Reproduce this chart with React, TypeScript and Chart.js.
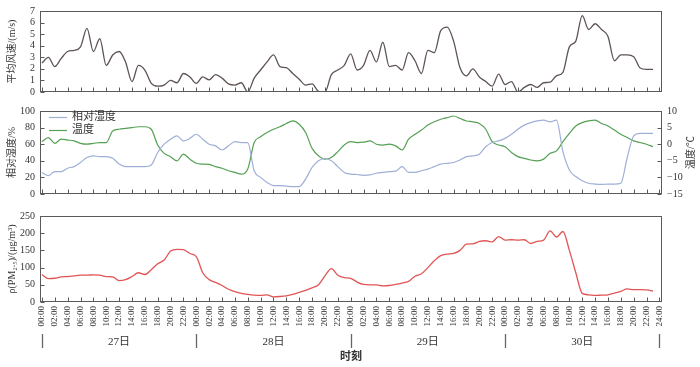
import React, { useEffect, useRef } from 'react';
import { Chart, registerables } from 'chart.js';
Chart.register(...registerables);

// ---------- data ----------
const hourTickLabels = ['00:00', '02:00', '04:00', '06:00', '08:00', '10:00', '12:00', '14:00', '16:00', '18:00', '20:00', '22:00'];
const endTickLabel = '24:00';
const dayLabels = ['27日', '28日', '29日', '30日'];

// hourly, 27th 00:00 .. 30th 23:00
const windSpeed = [
  2.5, 3.0, 2.2, 2.9, 3.5, 3.6, 3.9, 5.5, 3.5, 4.6,
  2.3, 3.2, 3.5, 2.6, 0.9, 2.3, 1.9, 0.75, 0.5, 0.6,
  1.0, 0.8, 1.6, 1.3, 0.75, 1.3, 1.05, 1.5, 1.2, 0.7,
  0.6, 0.8, 0.0, 1.2, 1.9, 2.6, 3.2, 2.2, 2.1, 1.6,
  1.1, 0.6, 0.7, 0.05, 0.0, 1.5, 1.9, 2.3, 3.3, 1.9,
  2.3, 3.6, 2.6, 4.3, 2.2, 2.3, 1.9, 3.4, 2.7, 1.6,
  3.6, 3.4, 5.3, 5.6, 4.4, 2.1, 1.4, 2.0, 1.3, 0.9,
  0.5, 1.55, 0.65, 0.9, 0.0, 0.4, 0.65, 0.4, 0.8, 0.85,
  1.4, 1.7, 3.9, 4.4, 6.6, 5.4, 5.9, 5.4, 4.8, 2.7,
  3.2, 3.2, 3.05, 2.07, 1.95, 1.95,
];
const humidity = [
  26, 22, 27, 27, 31, 33, 38, 44, 46, 45,
  45, 43, 36, 33, 33, 33, 33, 35, 50, 60,
  66, 70, 64, 67, 72, 66, 60, 58, 53, 58,
  63, 62, 62, 28, 20, 14, 10, 10, 9.5, 9,
  9, 18, 32, 40, 43, 40, 33, 26, 24, 23.5,
  22.5, 23, 25, 26, 27, 27.5, 33, 26, 26, 28,
  30, 33, 36, 37, 38, 41, 45, 46, 48, 57,
  62, 64, 67, 72, 78, 83, 86, 88, 89, 87,
  89, 51, 29, 21, 16, 13, 12, 11.5, 12, 12,
  13, 44, 70, 73, 73, 73,
];
const temperature = [
  0.75, 2.0, 0.25, 1.5, 1.25, 1.0, 0.25, 0.0, 0.25, 0.5,
  0.5, 4.0, 4.5, 4.75, 5.0, 5.25, 5.25, 4.5, -0.25, -2.75,
  -3.75, -5.0, -3.0, -4.5, -5.75, -6.0, -6.1, -6.75, -7.25, -8.0,
  -8.5, -9.0, -7.5, 0.5, 2.25, 3.5, 4.5, 5.25, 6.25, 7.0,
  6.0, 3.5, -1.25, -3.5, -4.5, -4.0, -2.25, -0.25, 0.75, 0.5,
  0.6, 1.0, 0.0, -0.25, 0.0, -0.5, -1.75, 1.5, 3.0, 4.25,
  5.75, 6.75, 7.5, 8.0, 8.5, 7.75, 7.0, 6.75, 6.25, 4.5,
  0.75, -0.25, -0.75, -2.5, -3.75, -4.25, -4.75, -5.0, -4.5, -2.75,
  -2.0, 0.75, 3.25, 5.5, 6.5, 7.0, 7.25, 6.25, 5.5, 4.25,
  3.0, 2.0, 1.0, 0.5, 0.0, -0.75,
];
const pm25 = [
  80, 68, 69, 73, 74, 76, 78, 78, 79, 78,
  74, 73, 62, 65, 74, 85, 80, 94, 111, 122,
  148, 153, 152, 141, 132, 85, 65, 57, 48, 37,
  30, 25, 22, 20, 19, 21, 15, 16, 18, 22,
  28, 34, 41, 50, 76, 97, 78, 71, 69, 58,
  51, 50, 50, 47, 48, 51, 55, 60, 75, 82,
  100, 120, 135, 139, 141, 150, 168, 169, 176, 178,
  175, 190, 180, 181, 180, 181, 170, 176, 180, 207,
  189, 205, 150, 85, 25, 21, 19, 20, 21, 26,
  31, 38, 36, 36, 35, 32,
];

// ---------- style ----------
const SERIF = "'Liberation Serif', 'Times New Roman', serif";
const CJK = "'Liberation Serif', 'Noto Sans CJK SC', serif";
const AXIS = '#5a5a5a';
const TEXT = '#333333';
const X_MIN = -0.3;
const X_MAX = 96.4;

const tickValues: number[] = [];
for (let d = 0; d < dayLabels.length; d++) hourTickLabels.forEach((_, i) => tickValues.push(d * 24 + i * 2));
tickValues.push(dayLabels.length * 24);
const tickLabel = (v: number) => (v === dayLabels.length * 24 ? endTickLabel : hourTickLabels[(v % 24) / 2]);

const points = (arr: number[]) => arr.map((y, i) => ({ x: i, y }));

const framePlugin = {
  id: 'frame',
  afterDraw(chart: any) {
    const { ctx, chartArea: a, scales } = chart;
    ctx.save();
    ctx.strokeStyle = AXIS;
    ctx.lineWidth = 1;
    const L = Math.round(a.left) + 0.5, R = Math.round(a.right) - 0.5;
    const T = Math.round(a.top) + 0.5, B = Math.round(a.bottom) - 0.5;
    ctx.strokeRect(L, T, R - L, B - T);
    ctx.beginPath();
    const xs = scales.x;
    tickValues.forEach((v) => {
      const px = Math.round(xs.getPixelForValue(v)) + 0.5;
      ctx.moveTo(px, B);
      ctx.lineTo(px, B - 4);
    });
    Object.values(scales).forEach((s: any) => {
      if (s.axis !== 'y') return;
      s.ticks.forEach((t: any) => {
        const py = Math.round(s.getPixelForValue(t.value)) + 0.5;
        if (s.position === 'left') { ctx.moveTo(L, py); ctx.lineTo(L + 4, py); }
        else { ctx.moveTo(R, py); ctx.lineTo(R - 4, py); }
      });
    });
    ctx.stroke();
    ctx.restore();
  },
};

const dayPlugin = {
  id: 'days',
  afterDraw(chart: any) {
    const { ctx, chartArea: a, scales } = chart;
    const x = scales.x;
    ctx.save();
    ctx.strokeStyle = '#666';
    ctx.lineWidth = 1.3;
    ctx.beginPath();
    for (let d = 0; d <= dayLabels.length; d++) {
      const px = Math.round(x.getPixelForValue(d * 24)) + 0.5;
      ctx.moveTo(px, a.bottom + 32);
      ctx.lineTo(px, a.bottom + 46);
    }
    ctx.stroke();
    ctx.fillStyle = TEXT;
    ctx.font = `11px ${CJK}`;
    ctx.textAlign = 'center';
    ctx.textBaseline = 'middle';
    dayLabels.forEach((lab, d) => ctx.fillText(lab, x.getPixelForValue(d * 24 + 12), a.bottom + 40));
    ctx.restore();
  },
};

// right-hand axis title (reads bottom-to-top) and legend inside the plot
const middleDecorPlugin = {
  id: 'middleDecor',
  afterDraw(chart: any) {
    const { ctx, chartArea: a } = chart;
    ctx.save();
    ctx.fillStyle = TEXT;
    ctx.font = `10px ${CJK}`;
    ctx.textAlign = 'center';
    ctx.textBaseline = 'middle';
    ctx.save();
    ctx.translate(a.right + 29, (a.top + a.bottom) / 2);
    ctx.rotate(-Math.PI / 2);
    ctx.fillText('温度/℃', 0, 0);
    ctx.restore();

    ctx.font = `11px ${CJK}`;
    ctx.textAlign = 'left';
    chart.data.datasets.forEach((ds: any, i: number) => {
      const y = Math.round(a.top + 6 + i * 13) + 0.5;
      ctx.strokeStyle = ds.borderColor;
      ctx.lineWidth = ds.borderWidth;
      ctx.beginPath();
      ctx.moveTo(a.left + 9, y);
      ctx.lineTo(a.left + 27, y);
      ctx.stroke();
      ctx.fillText(ds.label, a.left + 32, y);
    });
    ctx.restore();
  },
};

const yTitle = (text: string) => ({
  display: true, text, color: TEXT, font: { family: CJK, size: 10 }, padding: { top: 6, bottom: 0 },
});
const yTicks = (stepSize: number) => ({
  stepSize, autoSkip: false, color: TEXT, font: { family: SERIF, size: 10 }, padding: 5,
  callback: (v: any) => String(v).replace('-', '−'),
});
const yAxis = (min: number, max: number, step: number, title: string, position = 'left') => ({
  type: 'linear', position, min, max,
  grid: { display: false, drawTicks: false }, border: { display: false },
  ticks: yTicks(step),
  title: title ? yTitle(title) : { display: false },
  afterFit: (s: any) => { s.width = position === 'left' ? 40 : 38; },
});
const xHidden = () => ({
  type: 'linear', min: X_MIN, max: X_MAX, display: false,
  grid: { display: false }, border: { display: false },
});
const lineDs = (label: string, data: number[], color: string, yAxisID = 'y', width = 1.3) => ({
  label, data: points(data), borderColor: color, backgroundColor: color, borderWidth: width,
  pointRadius: 0, cubicInterpolationMode: 'monotone', yAxisID, fill: false,
});

export default function App() {
  const r1 = useRef<HTMLCanvasElement>(null);
  const r2 = useRef<HTMLCanvasElement>(null);
  const r3 = useRef<HTMLCanvasElement>(null);

  useEffect(() => {
    const common = { responsive: false, animation: false, devicePixelRatio: 1, events: [] as any[] };

    const c1 = new Chart(r1.current!, {
      type: 'line',
      data: { datasets: [lineDs('平均风速', windSpeed, '#5e5453', 'y', 1.3) as any] },
      options: {
        ...common,
        layout: { padding: { top: 7, bottom: 6, left: 0, right: 38 } },
        plugins: { legend: { display: false }, tooltip: { enabled: false } },
        scales: { x: xHidden() as any, y: yAxis(0, 7, 1, '平均风速/(m/s)') as any },
      },
      plugins: [framePlugin],
    });

    const c2 = new Chart(r2.current!, {
      type: 'line',
      data: {
        datasets: [
          lineDs('相对湿度', humidity, '#9fafd6', 'y', 1.2) as any,
          lineDs('温度', temperature, '#55a055', 'y2', 1.2) as any,
        ],
      },
      options: {
        ...common,
        layout: { padding: { top: 10, bottom: 6, left: 0, right: 0 } },
        plugins: { legend: { display: false }, tooltip: { enabled: false } },
        scales: {
          x: xHidden() as any,
          y: yAxis(0, 100, 20, '相对湿度/%') as any,
          y2: yAxis(-15, 10, 5, '', 'right') as any,
        },
      },
      plugins: [framePlugin, middleDecorPlugin],
    });

    const c3 = new Chart(r3.current!, {
      type: 'line',
      data: { datasets: [lineDs('PM2.5', pm25, '#e05555', 'y', 1.3) as any] },
      options: {
        ...common,
        layout: { padding: { top: 7, bottom: 0, left: 0, right: 38 } },
        plugins: { legend: { display: false }, tooltip: { enabled: false } },
        scales: {
          x: {
            type: 'linear', min: X_MIN, max: X_MAX,
            grid: { display: false, drawTicks: false }, border: { display: false },
            afterBuildTicks: (s: any) => { s.ticks = tickValues.map((v) => ({ value: v })); },
            afterFit: (s: any) => { s.height = 65; },
            ticks: {
              autoSkip: false, minRotation: 90, maxRotation: 90, padding: 4,
              color: TEXT, font: { family: SERIF, size: 9 },
              callback: (v: any) => tickLabel(Number(v)),
            },
            title: {
              display: true, text: '时刻', color: TEXT,
              font: { family: CJK, size: 11, weight: 'bold' }, padding: { top: 0, bottom: 3 },
            },
          } as any,
          y: yAxis(0, 250, 50, 'ρ(PM₂.₅)/(μg/m³)') as any,
        },
      },
      plugins: [framePlugin, dayPlugin],
    });

    return () => { c1.destroy(); c2.destroy(); c3.destroy(); };
  }, []);

  const cs = (top: number, h: number): React.CSSProperties => ({ position: 'absolute', left: 0, top, width: 700, height: h });
  return (
    <div style={{ position: 'absolute', left: 0, top: 0, width: 700, height: 367, background: '#fff' }}>
      <canvas ref={r1} width={700} height={103} style={cs(0, 103)} />
      <canvas ref={r2} width={700} height={105} style={cs(100, 105)} />
      <canvas ref={r3} width={700} height={162} style={cs(205, 162)} />
    </div>
  );
}
